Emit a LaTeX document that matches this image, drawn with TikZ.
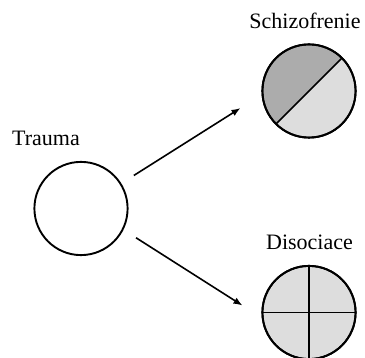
\documentclass[tikz,border=0pt]{standalone}
\usepackage{fontspec}
\setmainfont{Liberation Serif}
\usepackage{xcolor}
\usetikzlibrary{arrows.meta}
\definecolor{darkfill}{RGB}{172,172,172}
\definecolor{lightfill}{RGB}{221,221,221}

\begin{document}
\begin{tikzpicture}[x=1pt,y=-1pt,
    blob/.style={circle,draw,line width=1.9pt,minimum size=93.2pt,inner sep=0pt},
    title/.style={anchor=base,font=\fontsize{22}{26}\selectfont},
    arr/.style={line width=1.6pt,-{Latex[length=9pt,width=7pt]}}]
    \useasboundingbox (0,0) rectangle (365,358);
    \node [blob,outer sep=15.7pt] (trauma) at (81,208.5) {};
    \node [blob,fill=lightfill,outer sep=24pt,postaction={draw,line width=1.9pt},
        path picture={
            \fill[darkfill] (path picture bounding box.south west)--(path picture bounding box.north west)--(path picture bounding box.north east)--cycle;
            \draw[line width=1.7pt] (path picture bounding box.south west)--(path picture bounding box.north east);
        }] (schizo) at (309,91) {};
    \node [blob,fill=lightfill,outer sep=20.3pt,postaction={draw,line width=1.9pt},
        path picture={
            \draw[line width=1.7pt] (path picture bounding box.north)--(path picture bounding box.south);
            \draw[line width=1.7pt] (path picture bounding box.west)--(path picture bounding box.east);
        }] (disoc) at (309,312.5) {};
    \node [title] (traumatext) at (46,146) {Trauma};
    \node [title] (schizotext) at (305,28.5) {Schizofrenie};
    \node [title] (disoctext) at (309.5,250) {Disociace};
    \draw [arr] (trauma.32)--(schizo.194.6);
    \draw [arr] (trauma.-28.7)--(disoc.174.2);
\end{tikzpicture}
\end{document}
